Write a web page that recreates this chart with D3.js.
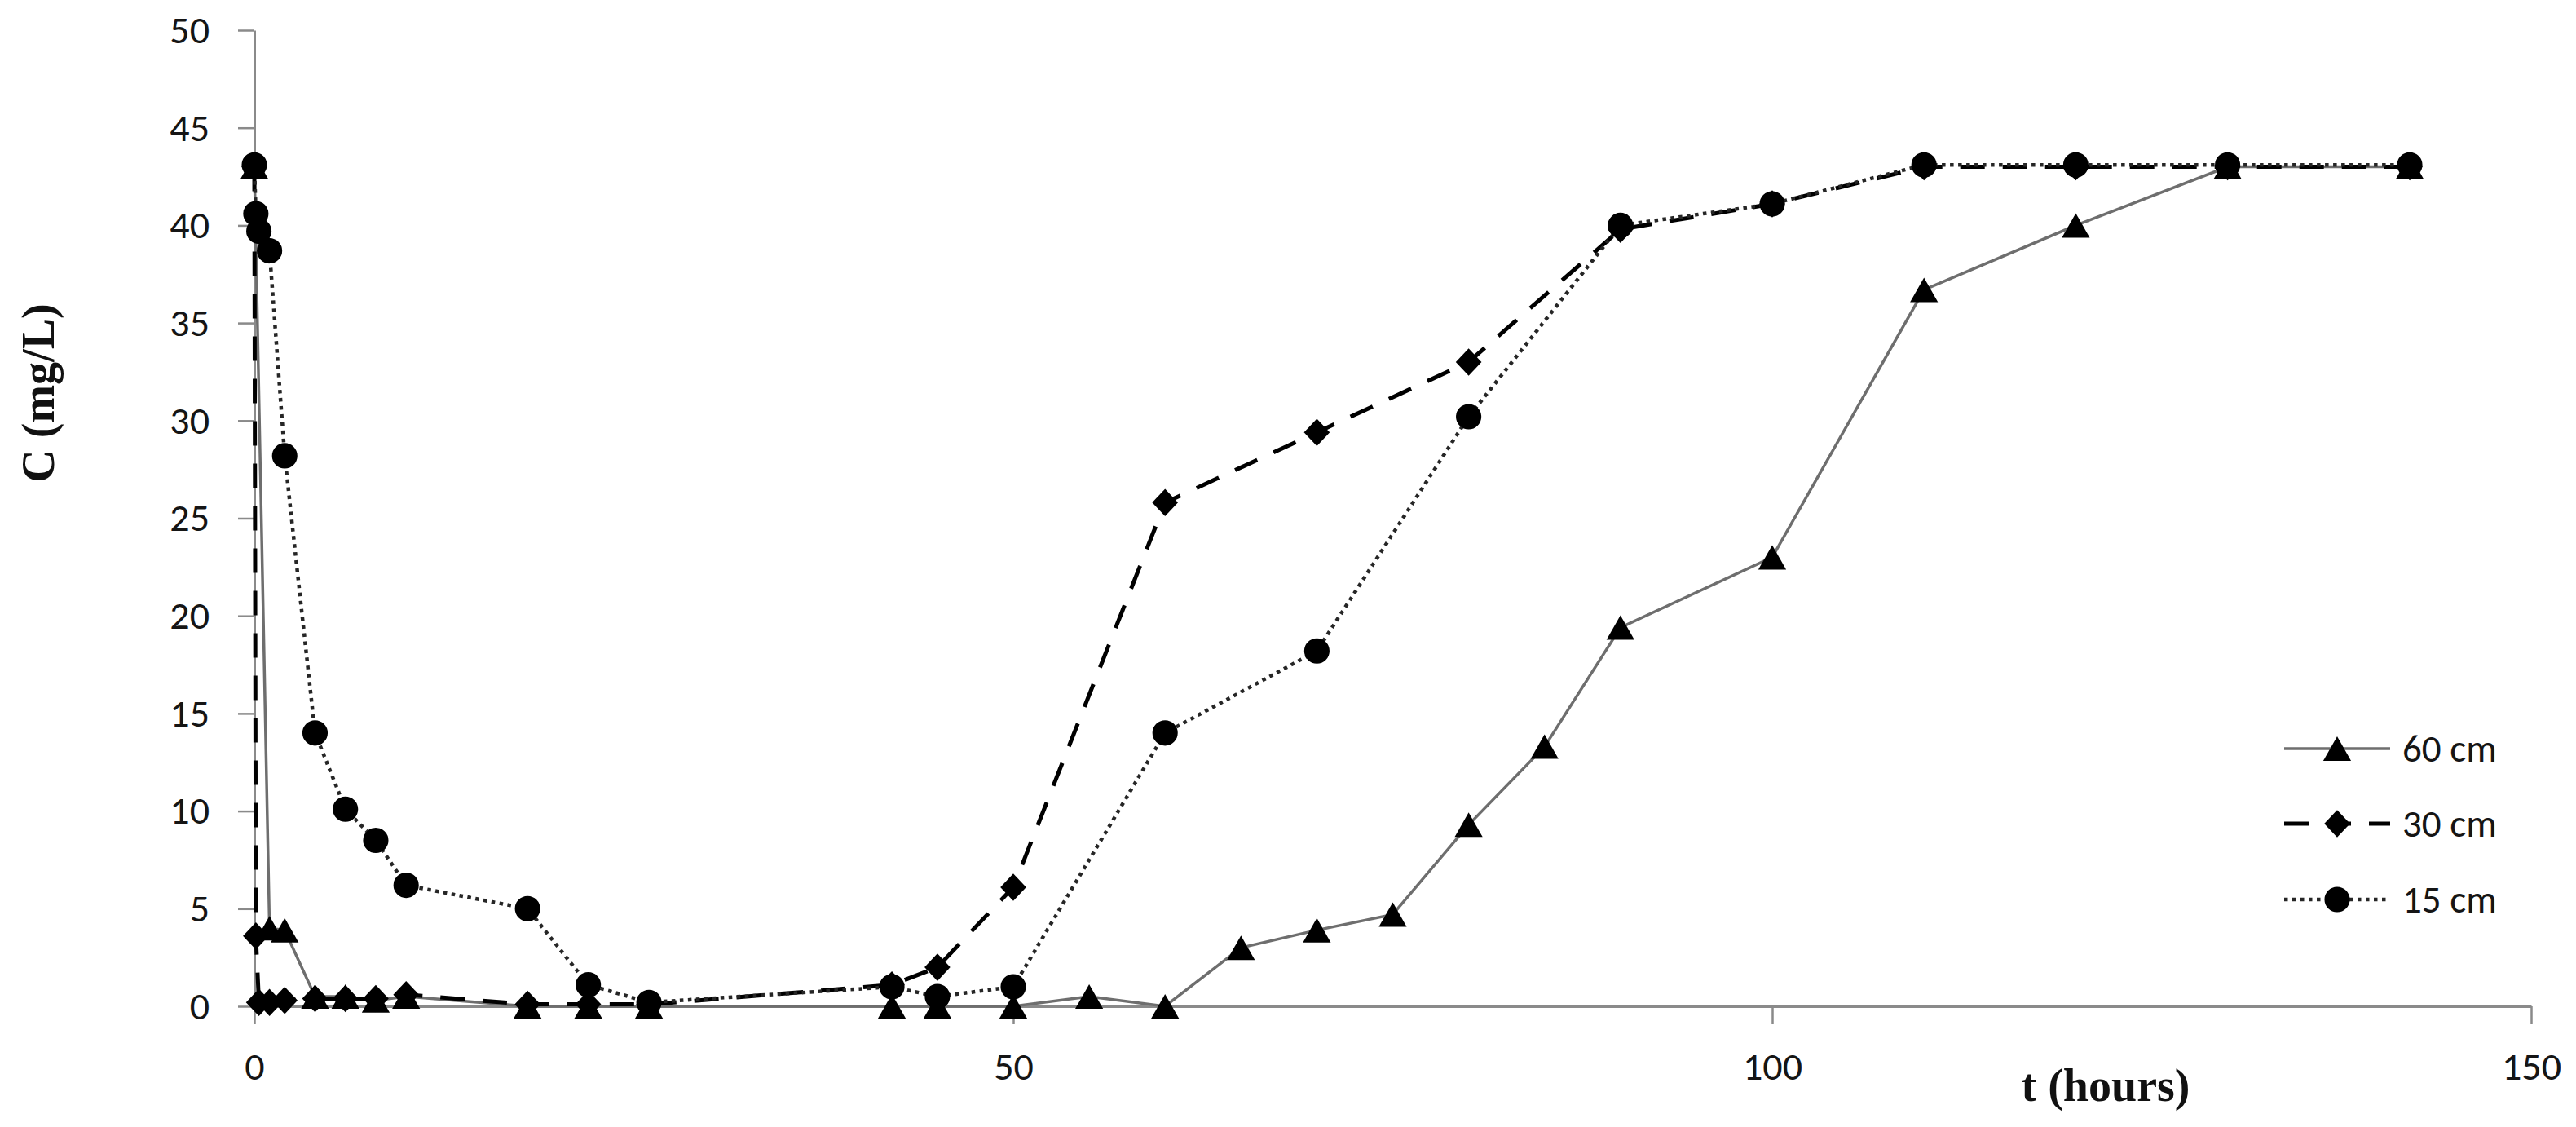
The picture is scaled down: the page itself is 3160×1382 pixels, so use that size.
<!DOCTYPE html>
<html>
<head>
<meta charset="utf-8">
<script src="https://cdn.jsdelivr.net/npm/d3@7"></script>
<style>
  html, body { margin: 0; padding: 0; background: #fff; }
  svg { display: block; }
</style>
</head>
<body>
<svg id="chart"></svg>
<script>
// ---- data ----
const times60 = [0, 1, 2, 4, 6, 8, 10, 18, 22, 26, 42, 45, 50, 55, 60, 65, 70, 75, 80, 85, 90, 100, 110, 120, 130, 142];
const conc60  = [43.0, 4.0, 3.9, 0.5, 0.5, 0.3, 0.5, 0.0, 0.0, 0.0, 0.0, 0.0, 0.0, 0.5, 0.0, 3.0, 3.9, 4.7, 9.3, 13.3, 19.4, 23.0, 36.7, 40.0, 43.0, 43.0];

const times30 = [0, 0.1, 0.3, 1, 2, 4, 6, 8, 10, 18, 22, 26, 42, 45, 50, 60, 70, 80, 90, 100, 110, 120, 130, 142];
const conc30  = [43.0, 3.6, 0.2, 0.2, 0.3, 0.4, 0.4, 0.4, 0.6, 0.1, 0.1, 0.1, 1.1, 2.0, 6.1, 25.8, 29.4, 33.0, 39.8, 41.1, 43.0, 43.0, 43.0, 43.0];

const times15 = [0, 0.1, 0.3, 1, 2, 4, 6, 8, 10, 18, 22, 26, 42, 45, 50, 60, 70, 80, 90, 100, 110, 120, 130, 142];
const conc15  = [43.1, 40.6, 39.7, 38.7, 28.2, 14.0, 10.1, 8.5, 6.2, 5.0, 1.1, 0.2, 1.0, 0.5, 1.0, 14.0, 18.2, 30.2, 40.0, 41.1, 43.1, 43.1, 43.1, 43.1];

const seriesNames = ["60 cm", "30 cm", "15 cm"];
const xTicks = [0, 50, 100, 150];
const yTicks = [0, 5, 10, 15, 20, 25, 30, 35, 40, 45, 50];

// ---- layout ----
const W = 3160, H = 1382;
const plot = {left: 312, right: 3105, top: 37, bottom: 1234};
const axisColor = "#8a8a8a";
const textFont = "Calibri, Carlito, 'Liberation Sans', Arial, sans-serif";
const titleFont = "'Times New Roman', 'Liberation Serif', serif";

const svg = d3.select("#chart").attr("width", W).attr("height", H);
svg.append("rect").attr("width", W).attr("height", H).attr("fill", "#fff");

const x = d3.scaleLinear().domain([0, 150]).range([plot.left, plot.right]);
const y = d3.scaleLinear().domain([0, 50]).range([plot.bottom, plot.top]);

// markers centred on their bounding box like the spreadsheet ones
const triangleType = {draw(ctx, size) {
  const s = Math.sqrt(size);
  ctx.moveTo(0, -s / 2); ctx.lineTo(s * 0.57, s / 2); ctx.lineTo(-s * 0.57, s / 2); ctx.closePath();
}};
const diamondType = {draw(ctx, size) {
  const s = Math.sqrt(size);
  ctx.moveTo(0, -s * 0.53); ctx.lineTo(s * 0.5, 0); ctx.lineTo(0, s * 0.53); ctx.lineTo(-s * 0.5, 0); ctx.closePath();
}};

const series = [
  {name: seriesNames[0], t: times60, c: conc60, stroke: "#6e6e6e", width: 3.5, dash: null,
   symbol: d3.symbol().type(triangleType).size(900)},
  {name: seriesNames[1], t: times30, c: conc30, stroke: "#000", width: 5, dash: "30,22",
   symbol: d3.symbol().type(diamondType).size(1000)},
  {name: seriesNames[2], t: times15, c: conc15, stroke: "#262626", width: 4.5, dash: "4.5,5.5",
   symbol: d3.symbol().type(d3.symbolCircle).size(760)}
];

// ---- axes ----
const xAxis = svg.append("g")
  .attr("transform", "translate(0," + plot.bottom + ")")
  .call(d3.axisBottom(x).tickValues(xTicks).tickSize(22).tickSizeOuter(0).tickPadding(34));

const yAxis = svg.append("g")
  .attr("transform", "translate(" + plot.left + ",0)")
  .call(d3.axisLeft(y).tickValues(yTicks).tickSize(20).tickSizeOuter(0).tickPadding(35));

[xAxis, yAxis].forEach(function(g) {
  g.select(".domain").attr("stroke", axisColor).attr("stroke-width", 3);
  g.selectAll(".tick line").attr("stroke", axisColor).attr("stroke-width", 2.5);
  g.selectAll(".tick text")
    .attr("fill", "#151515")
    .style("font-family", textFont)
    .style("font-size", "48px");
});

// ---- series ----
const line = d3.line()
  .x(function(d) { return x(d.t); })
  .y(function(d) { return y(d.c); });

series.forEach(function(s) {
  const pts = s.t.map(function(t, i) { return {t: t, c: s.c[i]}; });
  const g = svg.append("g");
  g.append("path")
    .datum(pts)
    .attr("d", line)
    .attr("fill", "none")
    .attr("stroke", s.stroke)
    .attr("stroke-width", s.width)
    .attr("stroke-dasharray", s.dash);
  g.selectAll("path.mark")
    .data(pts)
    .enter()
    .append("path")
    .attr("class", "mark")
    .attr("d", s.symbol)
    .attr("fill", "#000")
    .attr("transform", function(d) { return "translate(" + x(d.t) + "," + y(d.c) + ")"; });
});

// ---- legend ----
const legendRows = [918, 1010, 1103];
const legX0 = 2802, legX1 = 2932;
const legend = svg.append("g");
series.forEach(function(s, i) {
  const ly = legendRows[i];
  legend.append("line")
    .attr("x1", legX0).attr("x2", legX1).attr("y1", ly).attr("y2", ly)
    .attr("stroke", s.stroke).attr("stroke-width", s.width)
    .attr("stroke-dasharray", s.dash);
  legend.append("path")
    .attr("d", s.symbol)
    .attr("fill", "#000")
    .attr("transform", "translate(" + (legX0 + legX1) / 2 + "," + ly + ")");
  legend.append("text")
    .attr("x", 2947).attr("y", ly + 16)
    .attr("fill", "#151515")
    .style("font-family", textFont)
    .style("font-size", "47px")
    .text(s.name);
});

// ---- axis titles ----
svg.append("text")
  .attr("transform", "translate(66,482) rotate(-90)")
  .attr("text-anchor", "middle")
  .attr("fill", "#111")
  .style("font-family", titleFont)
  .style("font-weight", "bold")
  .style("font-size", "56px")
  .text("C (mg/L)");

svg.append("text")
  .attr("x", 2583).attr("y", 1350)
  .attr("text-anchor", "middle")
  .attr("fill", "#111")
  .style("font-family", titleFont)
  .style("font-weight", "bold")
  .style("font-size", "56px")
  .text("t (hours)");
</script>
</body>
</html>
